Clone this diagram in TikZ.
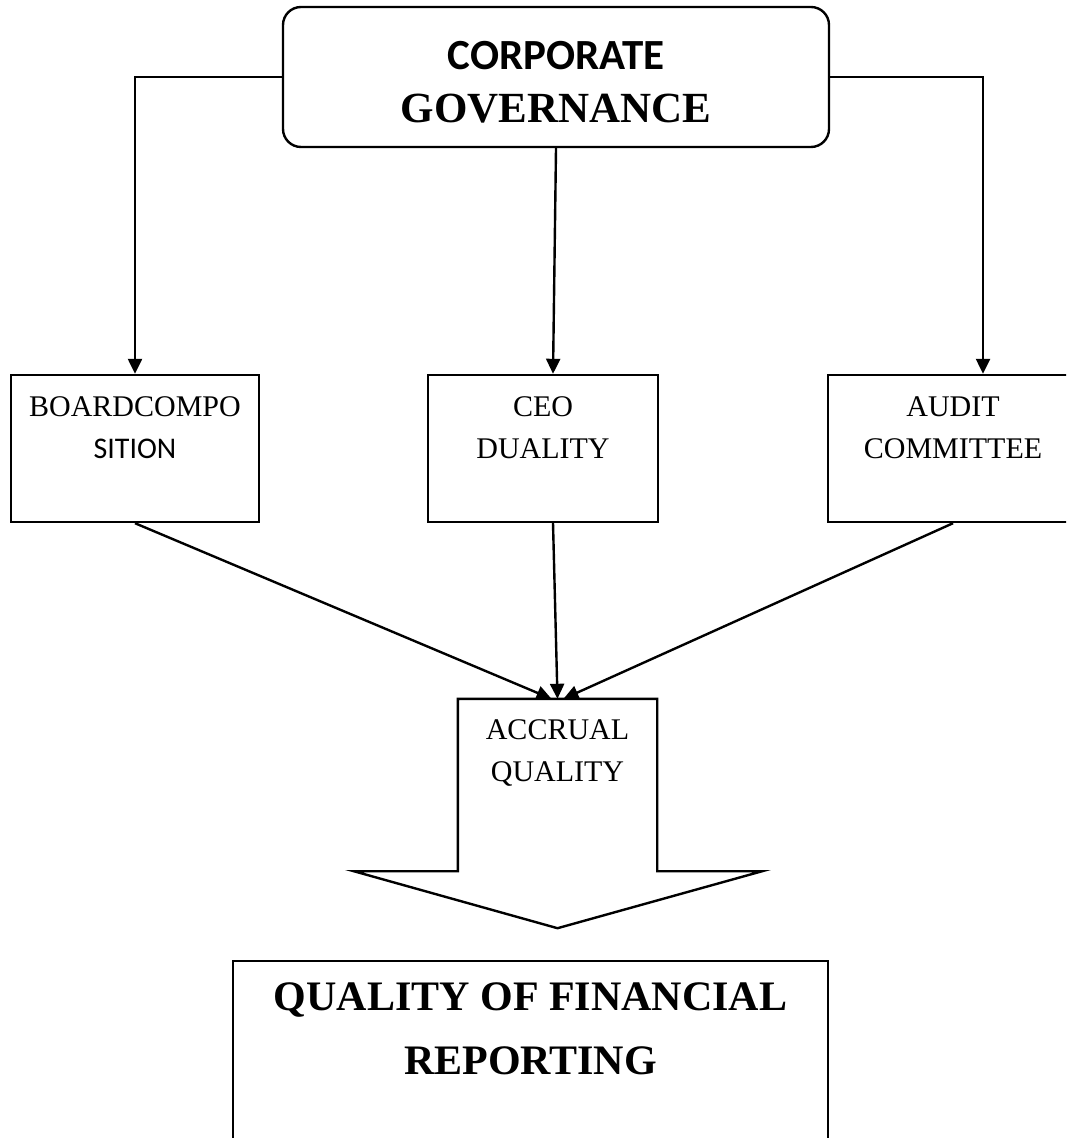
\documentclass[tikz,border=0pt]{standalone}
\usepackage{fontspec}
\setmainfont{Liberation Serif}
\newfontfamily\calibri{Carlito}
\usetikzlibrary{calc,positioning,arrows.meta}

\tikzstyle{govblock} = [draw, rectangle, rounded corners=9pt,
    minimum width=273pt, minimum height=70pt, align=center,
    font=\fontsize{21.5}{26.5}\selectfont]
\tikzstyle{factor} = [draw, rectangle, minimum height=73.5pt,
    align=center, font=\fontsize{15}{21}\selectfont]
\tikzstyle{wtext} = [align=center, inner sep=0pt]

\begin{document}
\begin{tikzpicture}[x=0.5pt, y=-0.5pt, line width=1.2pt,
    >={Triangle[length=7.5pt,width=7pt]}]
    \useasboundingbox (0,0) rectangle (1066,1138);
    \clip (0,0) rectangle (1066,1138);

    \node (gov) [govblock] at (556,77) {};
    \node (govname) [wtext, font=\fontsize{21.5}{26.5}\selectfont] at ([yshift=-2.5pt]gov.center)
        {{\calibri\bfseries CORPORATE}\\{\bfseries GOVERNANCE}};

    \node (board) [factor, minimum width=124pt] at (135,448.5) {BOARDCOMPO\\{\calibri SITION}\\~};
    \node (ceo) [factor, minimum width=115pt] at (543,448.5) {CEO\\DUALITY\\~};
    \node (audit) [factor, minimum width=125pt] at (953,448.5) {AUDIT\\COMMITTEE\\~};

    % block arrow for accrual quality
    \node (acc) [inner sep=0pt, minimum width=98.5pt, minimum height=85pt] at (557.5,785) {};
    \draw (acc.north west) -- (acc.north east) -- (acc.south east) -- ++(105,0)
        -- ($(acc.south)+(0,57)$) -- ($(acc.south west)+(-104,0)$) -- (acc.south west) -- cycle;
    \node (accname) [wtext, anchor=north, font=\fontsize{15}{21}\selectfont]
        at ([yshift=-10pt]acc.north) {ACCRUAL\\QUALITY};

    \node (report) [draw, rectangle, inner sep=0pt, minimum width=297.5pt, minimum height=120pt,
        anchor=north] at (530.5,960) {};
    \node (reportname) [wtext, anchor=north, font=\fontsize{21}{32}\selectfont\bfseries]
        at ([yshift=-10.5pt]report.north) {QUALITY OF FINANCIAL\\REPORTING};

    \draw[->] (gov.west) -| (board.north);
    \draw[->] (gov.south) -- ([xshift=5pt]ceo.north);
    \draw[->] (gov.east) -| ([xshift=15pt]audit.north);

    \draw[->] (board.south) -- ([xshift=-3pt]acc.north);
    \draw[->] ([xshift=5pt]ceo.south) -- (acc.north);
    \draw[->] (audit.south) -- ([xshift=3pt]acc.north);
\end{tikzpicture}
\end{document}
